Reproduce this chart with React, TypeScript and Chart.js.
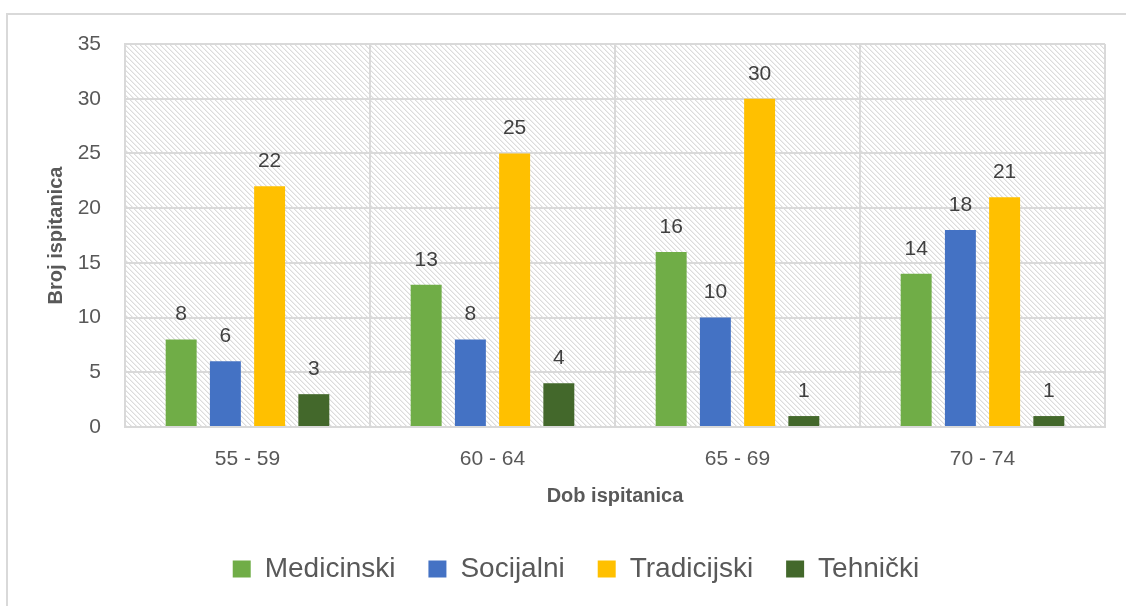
import React, { useEffect, useRef } from 'react';
import { Chart, registerables } from 'chart.js';

Chart.register(...registerables);

const categories = ['55 - 59', '60 - 64', '65 - 69', '70 - 74'];
const seriesNames = ['Medicinski', 'Socijalni', 'Tradicijski', 'Tehnički'];
const medicinski = [8, 13, 16, 14];
const socijalni = [6, 8, 10, 18];
const tradicijski = [22, 25, 30, 21];
const tehnicki = [3, 4, 1, 1];
const seriesColors = ['#70AD47', '#4472C4', '#FFC000', '#43682B'];
const yMin = 0;
const yMax = 35;
const yStep = 5;
const xTitle = 'Dob ispitanica';
const yTitle = 'Broj ispitanica';

const FONT = "'Liberation Sans', Arial, sans-serif";
const TEXT = '#595959';
const GRID = '#d9d9d9';

function makePattern(): CanvasPattern | string {
  const c = document.createElement('canvas');
  c.width = 5;
  c.height = 5;
  const g = c.getContext('2d');
  if (!g) return '#f6f6f6';
  g.fillStyle = '#ffffff';
  g.fillRect(0, 0, 5, 5);
  for (let i = 0; i < 5; i++) {
    g.fillStyle = '#dcdcdc';
    g.fillRect(i, i, 1, 1);
    g.fillStyle = '#efefef';
    g.fillRect((i + 1) % 5, i, 1, 1);
  }
  const p = g.createPattern(c, 'repeat');
  return p || '#f6f6f6';
}

const hatchPlugin = {
  id: 'hatchBg',
  beforeDraw(chart: any) {
    const { ctx, chartArea } = chart;
    if (!chartArea) return;
    ctx.save();
    ctx.fillStyle = '#ffffff';
    ctx.fillRect(0, 0, chart.width, chart.height);
    ctx.fillStyle = makePattern();
    ctx.fillRect(chartArea.left, chartArea.top, chartArea.right - chartArea.left, chartArea.bottom - chartArea.top);
    ctx.restore();
  },
};

const dataLabelPlugin = {
  id: 'dataLabels',
  afterDatasetsDraw(chart: any) {
    const { ctx } = chart;
    ctx.save();
    ctx.font = `21px ${FONT}`;
    ctx.fillStyle = '#404040';
    ctx.textAlign = 'center';
    ctx.textBaseline = 'middle';
    chart.data.datasets.forEach((ds: any, i: number) => {
      const meta = chart.getDatasetMeta(i);
      meta.data.forEach((bar: any, j: number) => {
        ctx.fillText(String(ds.data[j]), bar.x, bar.y - 25);
      });
    });
    ctx.restore();
  },
};

export default function App() {
  const ref = useRef<HTMLCanvasElement | null>(null);

  useEffect(() => {
    if (!ref.current) return;
    const values = [medicinski, socijalni, tradicijski, tehnicki];
    const chart = new Chart(ref.current, {
      type: 'bar',
      data: {
        labels: categories,
        datasets: seriesNames.map((name, i) => ({
          label: name,
          data: values[i],
          backgroundColor: seriesColors[i],
          borderWidth: 0,
          categoryPercentage: 0.722,
          barPercentage: 0.7,
        })),
      },
      options: {
        responsive: false,
        animation: false,
        devicePixelRatio: 1,
        layout: { padding: { left: 47, right: 21, top: 44, bottom: 13 } },
        plugins: {
          tooltip: { enabled: false },
          legend: {
            position: 'bottom',
            labels: {
              boxWidth: 18,
              boxHeight: 17,
              padding: 33,
              color: TEXT,
              font: { family: FONT, size: 28 },
            },
          },
        },
        scales: {
          x: {
            grid: { color: GRID, lineWidth: 2, drawTicks: false, offset: true },
            border: { color: GRID, width: 2 },
            ticks: { color: TEXT, padding: 20, font: { family: FONT, size: 21 } },
            title: {
              display: true,
              text: xTitle,
              color: TEXT,
              font: { family: FONT, size: 20, weight: 'bold' },
              padding: { top: 0, bottom: 14 },
            },
            afterFit: (s: any) => {
              s.height = 95;
            },
          },
          y: {
            min: yMin,
            max: yMax,
            grid: { color: GRID, lineWidth: 2, drawTicks: false },
            border: { color: GRID, width: 2 },
            ticks: { stepSize: yStep, color: TEXT, padding: 24, font: { family: FONT, size: 21 } },
            title: {
              display: true,
              text: yTitle,
              color: TEXT,
              font: { family: FONT, size: 20, weight: 'bold' },
              padding: { top: -3, bottom: 0 },
            },
            afterFit: (s: any) => {
              s.width = 78;
            },
          },
        },
      } as any,
      plugins: [hatchPlugin, dataLabelPlugin],
    });
    return () => chart.destroy();
  }, []);

  return (
    <div
      style={{
        position: 'fixed',
        left: 0,
        top: 0,
        width: 1126,
        height: 606,
        overflow: 'hidden',
        background: '#ffffff',
      }}
    >
      <canvas ref={ref} width={1126} height={606} style={{ position: 'absolute', left: 0, top: 0, width: 1126, height: 606 }} />
      <div
        style={{
          position: 'absolute',
          left: 6,
          top: 13,
          width: 2000,
          height: 2000,
          borderLeft: `2px solid ${GRID}`,
          borderTop: `2px solid ${GRID}`,
          pointerEvents: 'none',
        }}
      />
    </div>
  );
}
